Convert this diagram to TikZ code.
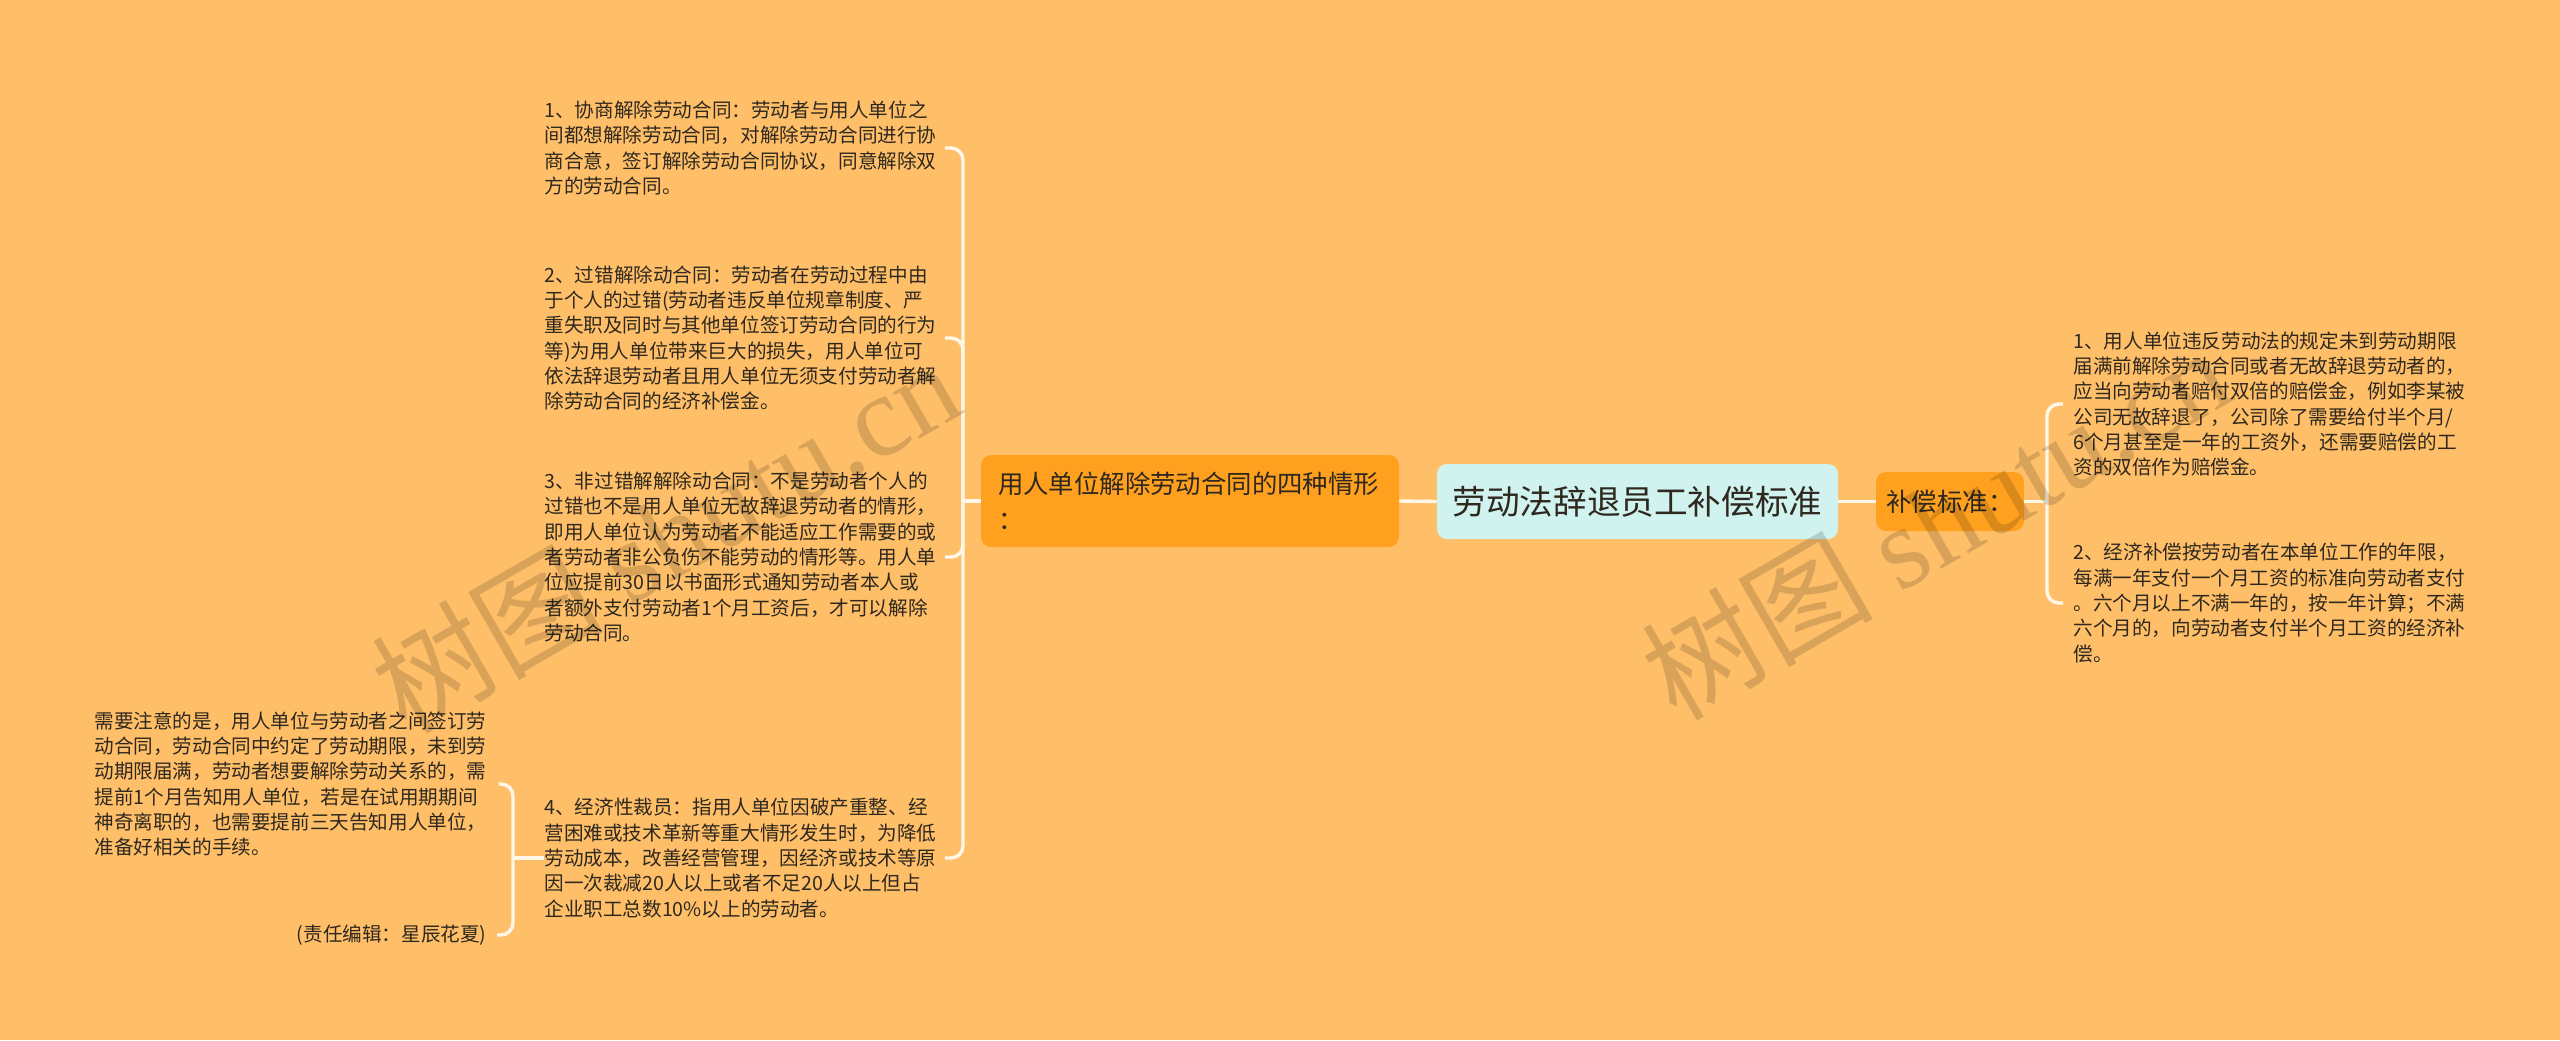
\documentclass[tikz,border=0pt]{standalone}
\usepackage{fontspec}
\setmainfont{Noto Sans CJK SC}
\newfontfamily\wmlatin{Liberation Serif}
\definecolor{bgc}{RGB}{255,191,105}
\definecolor{orangebox}{RGB}{255,161,31}
\definecolor{cyanbox}{RGB}{208,243,240}
\definecolor{linec}{RGB}{255,247,232}
\definecolor{txt}{RGB}{46,40,30}
\newcommand\txtS{\fontsize{9.8pt}{12.65pt}\selectfont}
\newcommand\txtM{\fontsize{12.7pt}{18pt}\selectfont}
\newcommand\txtL{\fontsize{16.8pt}{20pt}\selectfont}
\tikzset{
  conn/.style={draw=linec, line width=1.7pt},
  leaftext/.style={inner sep=0pt, text=txt, font=\txtS, align=left},
  midbox/.style={fill=orangebox, rounded corners=5pt, text=txt, font=\txtM},
  rootbox/.style={fill=cyanbox, rounded corners=5pt, text=txt, font=\txtL},
  wmark/.style={text=black, opacity=0.15, rotate=30, font=\fontsize{58pt}{58pt}\selectfont}
}
\begin{document}
\begin{tikzpicture}[x=0.5pt,y=-0.5pt]
\fill[bgc] (0,0) rectangle (2560,1040);
\useasboundingbox (0,0) rectangle (2560,1040);

% central and middle nodes
\node[rootbox, minimum width=200.5pt, minimum height=37.5pt] (root) at (1637.5,501.5) {劳动法辞退员工补偿标准};
\node[midbox, minimum width=209pt, minimum height=46pt, text width=192pt, inner xsep=8.5pt, align=left] (left) at (1190,501) {用人单位解除劳动合同的四种情形\\：};
\node[midbox, minimum width=74pt, minimum height=29.5pt] (right) at (1950,501.5) {补偿标准：};

% left leaves
\node[leaftext, text width=200pt, anchor=west] (l1) at (544,148) {1、协商解除劳动合同：劳动者与用人单位之\\间都想解除劳动合同，对解除劳动合同进行协\\商合意，签订解除劳动合同协议，同意解除双\\方的劳动合同。};
\node[leaftext, text width=200pt, anchor=west] (l2) at (544,338) {2、过错解除动合同：劳动者在劳动过程中由\\于个人的过错(劳动者违反单位规章制度、严\\重失职及同时与其他单位签订劳动合同的行为\\等)为用人单位带来巨大的损失，用人单位可\\依法辞退劳动者且用人单位无须支付劳动者解\\除劳动合同的经济补偿金。};
\node[leaftext, text width=200pt, anchor=west] (l3) at (544,557) {3、非过错解解除动合同：不是劳动者个人的\\过错也不是用人单位无故辞退劳动者的情形，\\即用人单位认为劳动者不能适应工作需要的或\\者劳动者非公负伤不能劳动的情形等。用人单\\位应提前30日以书面形式通知劳动者本人或\\者额外支付劳动者1个月工资后，才可以解除\\劳动合同。};
\node[leaftext, text width=200pt, anchor=west] (l4) at (544,858) {4、经济性裁员：指用人单位因破产重整、经\\营困难或技术革新等重大情形发生时，为降低\\劳动成本，改善经营管理，因经济或技术等原\\因一次裁减20人以上或者不足20人以上但占\\企业职工总数10\%以上的劳动者。};

% far-left leaves
\node[leaftext, text width=202pt, anchor=west] (note) at (94,784) {需要注意的是，用人单位与劳动者之间签订劳\\动合同，劳动合同中约定了劳动期限，未到劳\\动期限届满，劳动者想要解除劳动关系的，需\\提前1个月告知用人单位，若是在试用期期间\\神奇离职的，也需要提前三天告知用人单位，\\准备好相关的手续。};
\node[leaftext, inner xsep=5pt, anchor=east] (editor) at (497,935) {(责任编辑：星辰花夏)};

% right leaves
\node[leaftext, inner xsep=5pt, anchor=west] (r1) at (2063,404) {1、用人单位违反劳动法的规定未到劳动期限\\届满前解除劳动合同或者无故辞退劳动者的，\\应当向劳动者赔付双倍的赔偿金，例如李某被\\公司无故辞退了，公司除了需要给付半个月/\\6个月甚至是一年的工资外，还需要赔偿的工\\资的双倍作为赔偿金。};
\node[leaftext, inner xsep=5pt, anchor=west] (r2) at (2063,603) {2、经济补偿按劳动者在本单位工作的年限，\\每满一年支付一个月工资的标准向劳动者支付\\。六个月以上不满一年的，按一年计算；不满\\六个月的，向劳动者支付半个月工资的经济补\\偿。};

% connectors
\draw[conn] (left.east) -- (root.west);
\draw[conn] (root.east) -- (right.west);

\draw[conn] (left.west) -- (963,501);
\foreach \c in {l1,l2,l3,l4}{
  \draw[conn, rounded corners=6pt] (\c.east) -- (963,0 |- \c.east) -- (963,501);
}

\draw[conn] (l4.west) -- (513,0 |- l4.west);
\foreach \c in {note,editor}{
  \draw[conn, rounded corners=6pt] (\c.east) -- (513,0 |- \c.east) -- (513,0 |- l4.west);
}

\draw[conn] (right.east) -- (2047,501.5);
\foreach \c in {r1,r2}{
  \draw[conn, rounded corners=6pt] (\c.west) -- (2047,0 |- \c.west) -- (2047,501.5);
}

% watermarks (on top, translucent)
\node[wmark] (wm1) at (665,535) {树图 {\wmlatin shutu.cn}};
\node[wmark] (wm2) at (1935,522) {树图 {\wmlatin shutu.cn}};
\end{tikzpicture}
\end{document}
